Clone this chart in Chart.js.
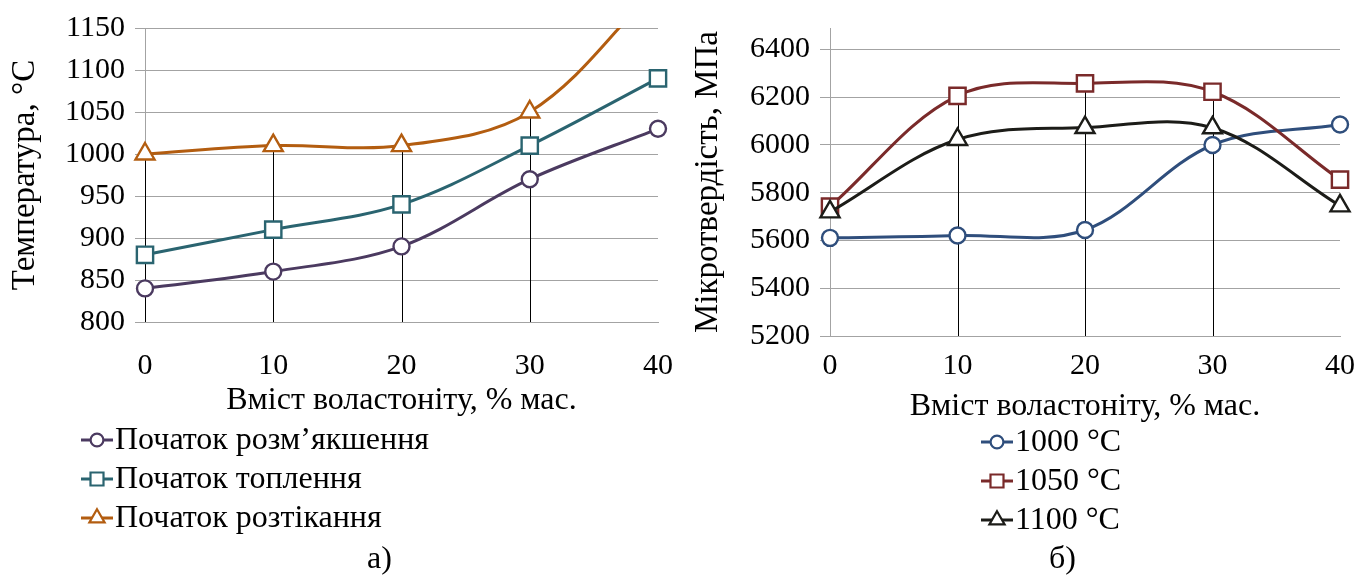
<!DOCTYPE html>
<html>
<head>
<meta charset="utf-8">
<script src="https://cdn.jsdelivr.net/npm/chart.js@4.4.0/dist/chart.umd.min.js"></script>
<style>
    html, body { margin: 0; padding: 0; background: #fff; }
    body { width: 1358px; height: 576px; position: relative; overflow: hidden;
           font-family: "Liberation Serif", "Times New Roman", serif; }
    canvas { position: absolute; top: 0; }
    #chartA { left: 0; }
    #chartB { left: 680px; }
    .cap { position: absolute; font-size: 32px; line-height: 1; color: #000; }
</style>
</head>
<body>
<canvas id="chartA" width="680" height="576"></canvas>
<canvas id="chartB" width="678" height="576"></canvas>
<div class="cap" style="left:367px; top:541px;">а)</div>
<div class="cap" style="left:1049px; top:541px;">б)</div>
<script>
(function () {
    "use strict";

    // --- data ---
    const contentLabels  = ["0", "10", "20", "30", "40"];
    const softeningStart = [840, 860, 890, 970, 1030];
    const meltingStart   = [880, 910, 940, 1010, 1090];
    const spreadingStart = [1000, 1010, 1010, 1050, 1200];

    const hard1000 = [5611, 5621, 5644, 6000, 6086];
    const hard1050 = [5742, 6206, 6258, 6223, 5855];
    const hard1100 = [5720, 6023, 6073, 6072, 5745];
    const hardTicks = [5200, 5400, 5600, 5800, 6000, 6200, 6400];

    const FONT = "'Liberation Serif', 'Times New Roman', serif";
    const GRID = "#a3a3a3";

    // vertical black lines from the highest point down to the axis
    const dropLines = {
        id: "dropLines",
        beforeDatasetsDraw(chart, args, opts) {
            const { ctx, chartArea, scales } = chart;
            ctx.save();
            ctx.strokeStyle = "#000";
            ctx.lineWidth = 1;
            (opts.indices || []).forEach(i => {
                const top = Math.max(...chart.data.datasets.map(d => d.data[i]));
                const x = Math.round(scales.x.getPixelForValue(i)) + 0.5;
                const y = Math.max(scales.y.getPixelForValue(top), chartArea.top);
                ctx.beginPath();
                ctx.moveTo(x, y);
                ctx.lineTo(x, chartArea.bottom);
                ctx.stroke();
            });
            ctx.restore();
        }
    };

    function drawMarker(ctx, style, r, x, y) {
        ctx.beginPath();
        if (style === "circle") {
            ctx.arc(x, y, r, 0, Math.PI * 2);
        } else if (style === "rect") {
            const s = r * Math.SQRT1_2;
            ctx.rect(x - s, y - s, 2 * s, 2 * s);
        } else {
            ctx.moveTo(x, y - r);
            ctx.lineTo(x + r * 0.866, y + r * 0.5);
            ctx.lineTo(x - r * 0.866, y + r * 0.5);
            ctx.closePath();
        }
        ctx.fill();
        ctx.stroke();
    }

    // stacked legend below the plot
    const stackLegend = {
        id: "stackLegend",
        afterDraw(chart, args, opts) {
            const ctx = chart.ctx;
            ctx.save();
            chart.data.datasets.forEach((ds, i) => {
                const y = opts.y + i * opts.gap;
                const x = opts.x;
                ctx.strokeStyle = ds.borderColor;
                ctx.lineWidth = 3;
                ctx.beginPath();
                ctx.moveTo(x, y);
                ctx.lineTo(x + 32, y);
                ctx.stroke();
                ctx.fillStyle = "#fff";
                ctx.lineWidth = 2.2;
                drawMarker(ctx, ds.pointStyle, ds.pointRadius * 0.8, x + 16, y);
                ctx.fillStyle = "#000";
                ctx.font = opts.font;
                ctx.textBaseline = "middle";
                ctx.fillText(ds.label, x + 34, y + 1);
            });
            ctx.restore();
        }
    };

    // later series sit on top, as in the source
    function series(label, data, color, style, radius, idx) {
        return {
            label, data,
            order: 2 - idx,
            borderColor: color,
            backgroundColor: "#fff",
            borderWidth: 3,
            pointStyle: style,
            pointRadius: radius,
            pointBorderWidth: 2.4,
            pointBackgroundColor: "#fff",
            pointBorderColor: color,
            tension: 0.35
        };
    }

    function buildOptions(cfg) {
        return {
            responsive: false,
            animation: false,
            layout: { padding: cfg.padding },
            plugins: {
                legend: { display: false },
                tooltip: { enabled: false },
                dropLines: { indices: cfg.drops },
                stackLegend: cfg.legend
            },
            scales: {
                x: {
                    type: "category",
                    offset: false,
                    grid: { display: false },
                    border: { display: true, color: GRID, width: 1 },
                    ticks: { color: "#000", padding: cfg.tickPad, maxRotation: 0,
                             font: { family: FONT, size: 30 } },
                    title: { display: true, text: "Вміст воластоніту, % мас.", color: "#000",
                             padding: { top: 0, bottom: 2 },
                             font: { family: FONT, size: 32 } },
                    afterFit: s => { s.height = cfg.xHeight; s.paddingLeft = 0; s.paddingRight = 0; }
                },
                y: {
                    min: cfg.min, max: cfg.max,
                    grid: { color: GRID, lineWidth: 1, tickLength: 10, drawTicks: true },
                    border: { display: true, color: GRID, width: 1 },
                    ticks: { color: "#000", padding: 10, stepSize: cfg.step,
                             callback: v => String(v),
                             font: { family: FONT, size: 30 } },
                    title: { display: true, text: cfg.yTitle, color: "#000",
                             padding: { top: cfg.titlePad, bottom: 0 },
                             font: { family: FONT, size: 33 } },
                    afterBuildTicks: cfg.ticks ? (s => { s.ticks = cfg.ticks.map(v => ({ value: v })); }) : undefined,
                    afterFit: s => { s.width = cfg.yWidth; }
                }
            }
        };
    }

    function renderTemperature() {
        new Chart(document.getElementById("chartA"), {
            type: "line",
            data: {
                labels: contentLabels,
                datasets: [
                    series("Початок розм’якшення", softeningStart, "#4b3a60", "circle", 8, 0),
                    series("Початок топлення", meltingStart, "#2a6470", "rect", 11.5, 1),
                    series("Початок розтікання", spreadingStart, "#b35d10", "triangle", 11, 2)
                ]
            },
            options: buildOptions({
                padding: { left: 0, right: 22, top: 28, bottom: 154 },
                min: 800, max: 1150, step: 50,
                yTitle: "Температура, °С", titlePad: 6,
                yWidth: 145, xHeight: 100, tickPad: 18,
                drops: [0, 1, 2, 3],
                legend: { x: 81, y: 440, gap: 39, font: "32px " + FONT }
            }),
            plugins: [dropLines, stackLegend]
        });
    }

    function renderHardness() {
        new Chart(document.getElementById("chartB"), {
            type: "line",
            data: {
                labels: contentLabels,
                datasets: [
                    series("1000 °C", hard1000, "#2f4e7c", "circle", 8, 0),
                    series("1050 °C", hard1050, "#7a2a2a", "rect", 11.5, 1),
                    series("1100 °C", hard1100, "#1c1c18", "triangle", 11, 2)
                ]
            },
            options: buildOptions({
                padding: { left: 0, right: 18, top: 25, bottom: 148 },
                min: 5200, max: 6490, ticks: hardTicks,
                yTitle: "Мікротвердість, МПа", titlePad: 9,
                yWidth: 150, xHeight: 92, tickPad: 4,
                drops: [1, 2, 3],
                legend: { x: 301, y: 442, gap: 39, font: "32px " + FONT }
            }),
            plugins: [dropLines, stackLegend]
        });
    }

    function init() {
        renderTemperature();
        renderHardness();
    }

    if (document.readyState === "loading") {
        document.addEventListener("DOMContentLoaded", init);
    } else {
        init();
    }
})();
</script>
</body>
</html>
